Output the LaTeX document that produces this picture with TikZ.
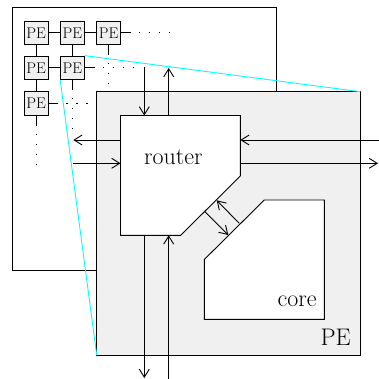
\documentclass[tikz,border=0pt]{standalone}
\usepackage{fontspec}
\usetikzlibrary{arrows.meta}
\definecolor{pefill}{RGB}{240,240,240}
\definecolor{linkcyan}{RGB}{0,255,255}
\tikzset{
  ln/.style={line width=0.9pt, black},
  pebox/.style={draw, line width=0.9pt, fill=pefill, minimum size=23.5pt, inner sep=0pt,
    font=\fontsize{15.5}{17}\selectfont},
  dotline/.style={line width=0.9pt, dash pattern=on 10pt off 8pt on 1.5pt off 8.5pt on 1.5pt off 8.5pt on 1.5pt off 8.5pt on 1.5pt off 8.5pt on 1.5pt off 8.5pt on 1.5pt off 30pt},
  arr/.style={line width=0.9pt, -{Straight Barb[length=8pt,width=10pt,line width=0.9pt]}},
  bigtext/.style={inner sep=0pt, font=\fontsize{24}{26}\selectfont},
  cyanline/.style={line width=0.9pt, draw=linkcyan},
}
\begin{document}
\begin{tikzpicture}[x=1pt,y=-1pt]
\useasboundingbox (0,0) rectangle (378,379);
% outer array frame
\draw[ln] (12.3,7.7) rectangle (276.7,270.7);
% PE array nodes
\node[pebox] (p11) at (36.2,32.8) {PE};
\node[pebox] (p12) at (72.4,32.8) {PE};
\node[pebox] (p13) at (108.6,32.8) {PE};
\node[pebox] (p21) at (36.2,67.8) {PE};
\node[pebox] (p22) at (72.4,67.8) {PE};
\node[pebox] (p31) at (36.2,103.5) {PE};
% free ends of dotted links
\coordinate (e13r) at (177,32.8);
\coordinate (e22r) at (142,67.8);
\coordinate (e31r) at (97,103.5);
\coordinate (e31d) at (36.2,172);
\coordinate (e22d) at (72.4,135);
\coordinate (e13d) at (108.6,92);
% dotted links
\draw[dotline] (p13.east) -- (e13r);
\draw[dotline] (p22.east) -- (e22r);
\draw[dotline] (p31.east) -- (e31r);
\draw[dotline] (p31.south) -- (e31d);
\draw[dotline] (p22.south) -- (e22d);
\draw[dotline] (p13.south) -- (e13d);
% solid links
\draw[ln] (p11) -- (p12);
\draw[ln] (p12) -- (p13);
\draw[ln] (p21) -- (p22);
\draw[ln] (p11) -- (p21);
\draw[ln] (p21) -- (p31);
\draw[ln] (p12) -- (p22);
% zoomed PE
\coordinate (bigNW) at (96.7,91.7);
\coordinate (bigNE) at (360.3,91.7);
\coordinate (bigSW) at (96.7,355);
\coordinate (bigSE) at (360.3,355);
\draw[ln, fill=pefill] (bigNW) -- (bigNE) -- (bigSE) -- (bigSW) -- cycle;
% cyan zoom lines
\draw[cyanline] (p22.north east) -- (bigNE);
\draw[cyanline] (p22.south west) -- (bigSW);
% router
\draw[ln, fill=white] (120.5,115.5) -- (240.3,115.5) -- (240.3,176) -- (180.7,235.3) -- (120.5,235.3) -- cycle;
% core
\draw[ln, fill=white] (264.3,200) -- (324.3,200) -- (324.3,319.3) -- (204.3,319.3) -- (204.3,259.5) -- cycle;
% labels
\node[bigtext, anchor=base west] (router) at (144,164.3) {router};
\node[bigtext, anchor=base east] (core) at (316.7,306.7) {core};
\node[bigtext, anchor=base east] (pe) at (351,345) {PE};
% arrow end points
\coordinate (tA) at (144.3,67.5);
\coordinate (tAr) at (144.3,115.5);
\coordinate (tB) at (168.7,68);
\coordinate (tBr) at (168.7,115.5);
\coordinate (lA) at (73.3,140);
\coordinate (lAr) at (120.5,140);
\coordinate (lB) at (73.3,163.3);
\coordinate (lBr) at (120.5,163.3);
\coordinate (rA) at (382,140);
\coordinate (rAr) at (240.3,140);
\coordinate (rB) at (378,163.3);
\coordinate (rBr) at (240.3,163.3);
\coordinate (bA) at (144.3,378);
\coordinate (bAr) at (144.3,235.3);
\coordinate (bB) at (168.7,382);
\coordinate (bBr) at (168.7,235.3);
\coordinate (dA) at (205,211.7);
\coordinate (dAc) at (228.3,235);
\coordinate (dB) at (239.2,223.3);
\coordinate (dBr) at (216.7,200.3);
% arrows
\draw[arr] (tA) -- (tAr);
\draw[arr] (tBr) -- (tB);
\draw[arr] (lAr) -- (lA);
\draw[arr] (lB) -- (lBr);
\draw[arr] (rA) -- (rAr);
\draw[arr] (rBr) -- (rB);
\draw[arr] (bAr) -- (bA);
\draw[arr] (bB) -- (bBr);
\draw[arr] (dA) -- (dAc);
\draw[arr] (dB) -- (dBr);
\end{tikzpicture}
\end{document}
